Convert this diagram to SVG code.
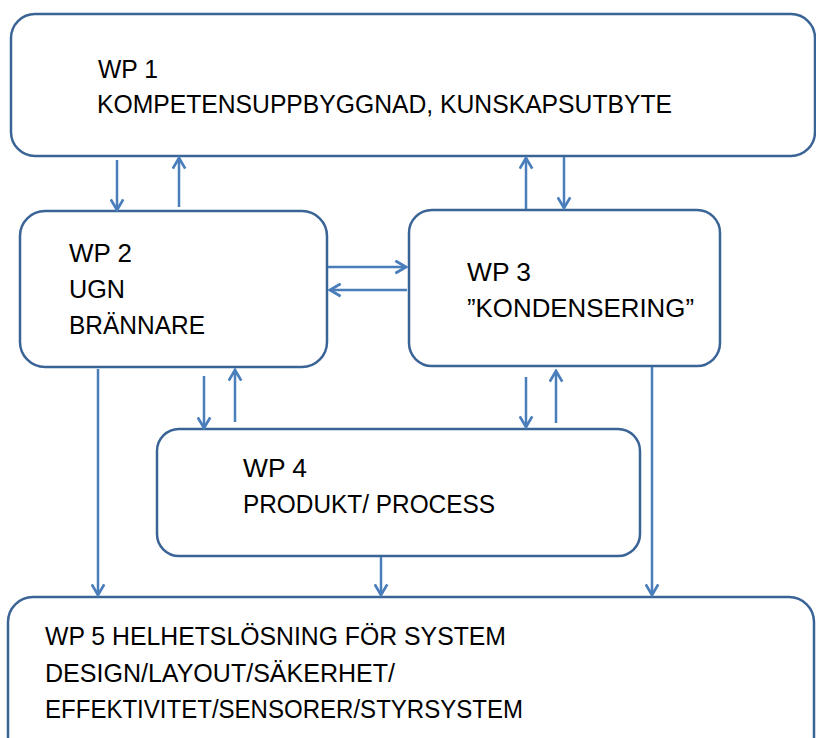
<svg xmlns="http://www.w3.org/2000/svg" width="816" height="738" viewBox="0 0 816 738">
<style>
.box{fill:#ffffff;stroke:#3B6496;stroke-width:2.5}
.lbl{font-family:"Liberation Sans",Arial,sans-serif;font-size:25px;fill:#000000}
.big{font-size:26px}
.arr{stroke:#4A7EBB;stroke-width:2.5;fill:none;marker-end:url(#ah)}
</style>
<defs>
<marker id="ah" viewBox="0 0 12 12" refX="10.5" refY="6" markerWidth="15" markerHeight="15" markerUnits="userSpaceOnUse" orient="auto">
<path d="M2,1 L10.5,6 L2,11" fill="none" stroke="#4A7EBB" stroke-width="2.2"/>
</marker>
</defs>
<rect width="816" height="738" fill="#ffffff"/>
<g id="wp1">
<rect class="box" x="11" y="14" width="804" height="142" rx="24"/>
<text class="lbl" x="98" y="78" textLength="60" lengthAdjust="spacingAndGlyphs">WP 1</text>
<text class="lbl" x="97" y="113" textLength="575" lengthAdjust="spacingAndGlyphs">KOMPETENSUPPBYGGNAD, KUNSKAPSUTBYTE</text>
</g>
<g id="wp2">
<rect class="box" x="20" y="211" width="307" height="156" rx="25"/>
<text class="lbl" x="69" y="262" textLength="63" lengthAdjust="spacingAndGlyphs">WP 2</text>
<text class="lbl" x="69" y="298" textLength="56" lengthAdjust="spacingAndGlyphs">UGN</text>
<text class="lbl" x="69" y="334" textLength="136" lengthAdjust="spacingAndGlyphs">BRÄNNARE</text>
</g>
<g id="wp3">
<rect class="box" x="409" y="210" width="311" height="156" rx="23"/>
<text class="lbl" x="467" y="281" textLength="64" lengthAdjust="spacingAndGlyphs">WP 3</text>
<text class="lbl" x="467" y="317" textLength="227" lengthAdjust="spacingAndGlyphs">”KONDENSERING”</text>
</g>
<g id="wp4">
<rect class="box" x="157" y="429" width="483" height="127" rx="22"/>
<text class="lbl" x="243" y="477" textLength="64" lengthAdjust="spacingAndGlyphs">WP 4</text>
<text class="lbl" x="243" y="513" textLength="252" lengthAdjust="spacingAndGlyphs">PRODUKT/ PROCESS</text>
</g>
<g id="wp5">
<rect class="box" x="8" y="597" width="806" height="170" rx="25"/>
<text class="lbl big" x="45" y="645" textLength="461" lengthAdjust="spacingAndGlyphs">WP 5 HELHETSLÖSNING FÖR SYSTEM</text>
<text class="lbl big" x="45" y="682" textLength="350" lengthAdjust="spacingAndGlyphs">DESIGN/LAYOUT/SÄKERHET/</text>
<text class="lbl big" x="45" y="718" textLength="478" lengthAdjust="spacingAndGlyphs">EFFEKTIVITET/SENSORER/STYRSYSTEM</text>
</g>
<g id="connectors">
<line class="arr" x1="117" y1="160" x2="117" y2="210"/>
<line class="arr" x1="179" y1="207" x2="179" y2="158"/>
<line class="arr" x1="526" y1="209" x2="526" y2="158"/>
<line class="arr" x1="564" y1="157" x2="564" y2="208"/>
<line class="arr" x1="328" y1="267" x2="406" y2="267"/>
<line class="arr" x1="407" y1="290" x2="330" y2="290"/>
<line class="arr" x1="204" y1="376" x2="204" y2="428"/>
<line class="arr" x1="235" y1="422" x2="235" y2="370"/>
<line class="arr" x1="526" y1="377" x2="526" y2="427"/>
<line class="arr" x1="556" y1="423" x2="556" y2="371"/>
<line class="arr" x1="98" y1="369" x2="98" y2="595"/>
<line class="arr" x1="381" y1="557" x2="381" y2="595"/>
<line class="arr" x1="652" y1="367" x2="652" y2="595"/>
</g>
</svg>
